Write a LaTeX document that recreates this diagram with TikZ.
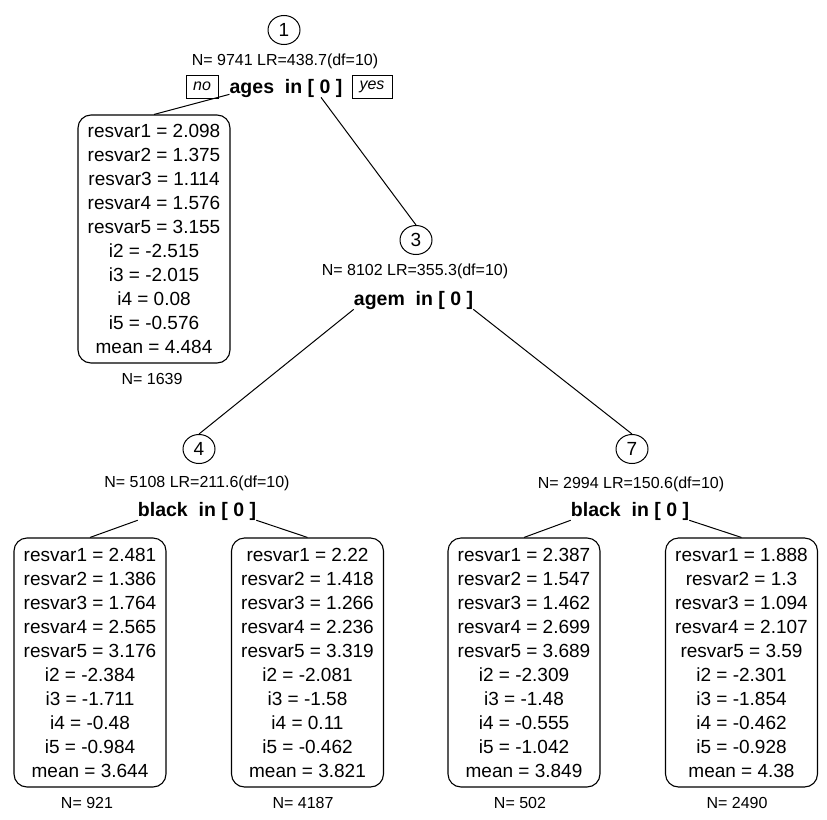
\documentclass[tikz,border=0pt]{standalone}
\usepackage{fontspec}
\setmainfont{Liberation Sans}
\usetikzlibrary{shapes.geometric}
\begin{document}
\begin{tikzpicture}[x=1pt,y=-1pt,
  circ/.style={draw, ellipse, line width=1pt, minimum width=32pt, minimum height=29pt, inner sep=0pt, font=\fontsize{19}{22}\selectfont},
  stat/.style={anchor=base, inner sep=0pt, font=\fontsize{16}{19}\selectfont},
  splitrule/.style={anchor=base, inner sep=0pt, font=\bfseries\fontsize{19.5}{22}\selectfont},
  lbl/.style={draw, line width=1pt, inner sep=0pt, minimum height=23pt, font=\itshape\fontsize{16}{19}\selectfont},
  leaf/.style={draw, rounded corners=13pt, line width=1.1pt, minimum width=152pt, align=center, inner sep=0pt, font=\fontsize{19}{24}\selectfont},
  edge/.style={line width=1pt}]
\fill[white] (0,0) rectangle (827,819);
\useasboundingbox (0,0) rectangle (827,819);

% node 1
\node[circ] (c1) at (284,30) {1};
\node[stat] (s1) at (285,65) {N= 9741 LR=438.7(df=10)};
\node[splitrule] (r1) at (286,93) {ages\ \ in [ 0 ]};
\node[lbl, minimum width=32pt] (no) at (202,86.5) {no};
\node[lbl, minimum width=40pt] (yes) at (372,86.5) {yes};

% left leaf
\node[leaf, minimum height=248pt] (L0) at (154,239) {resvar1 = 2.098\\resvar2 = 1.375\\resvar3 = 1.114\\resvar4 = 1.576\\resvar5 = 3.155\\i2 = -2.515\\i3 = -2.015\\i4 = 0.08\\i5 = -0.576\\mean = 4.484};
\node[stat] (N0) at (152,384) {N= 1639};

% node 3
\node[circ] (c3) at (416,240) {3};
\node[stat] (s3) at (415,275) {N= 8102 LR=355.3(df=10)};
\node[splitrule] (r3) at (413.5,305) {agem\ \ in [ 0 ]};

% node 4
\node[circ] (c4) at (199,449) {4};
\node[stat] (s4) at (197,487) {N= 5108 LR=211.6(df=10)};
\node[splitrule] (r4) at (197,516) {black\ \ in [ 0 ]};

% node 7
\node[circ] (c7) at (632,449) {7};
\node[stat] (s7) at (631,488) {N= 2994 LR=150.6(df=10)};
\node[splitrule] (r7) at (630,516) {black\ \ in [ 0 ]};

% bottom leaves
\node[leaf, minimum height=249pt] (L1) at (90,662.5) {resvar1 = 2.481\\resvar2 = 1.386\\resvar3 = 1.764\\resvar4 = 2.565\\resvar5 = 3.176\\i2 = -2.384\\i3 = -1.711\\i4 = -0.48\\i5 = -0.984\\mean = 3.644};
\node[stat] (N1) at (87,808) {N= 921};
\node[leaf, minimum height=249pt] (L2) at (307.5,662.5) {resvar1 = 2.22\\resvar2 = 1.418\\resvar3 = 1.266\\resvar4 = 2.236\\resvar5 = 3.319\\i2 = -2.081\\i3 = -1.58\\i4 = 0.11\\i5 = -0.462\\mean = 3.821};
\node[stat] (N2) at (303,808) {N= 4187};
\node[leaf, minimum height=249pt] (L3) at (524,662.5) {resvar1 = 2.387\\resvar2 = 1.547\\resvar3 = 1.462\\resvar4 = 2.699\\resvar5 = 3.689\\i2 = -2.309\\i3 = -1.48\\i4 = -0.555\\i5 = -1.042\\mean = 3.849};
\node[stat] (N3) at (520,808) {N= 502};
\node[leaf, minimum height=249pt] (L4) at (741.5,662.5) {resvar1 = 1.888\\resvar2 = 1.3\\resvar3 = 1.094\\resvar4 = 2.107\\resvar5 = 3.59\\i2 = -2.301\\i3 = -1.854\\i4 = -0.462\\i5 = -0.928\\mean = 4.38};
\node[stat] (N4) at (737,808) {N= 2490};

% edges
\draw[edge] ([yshift=3pt]r1.south west) -- (L0.north);
\draw[edge] ([xshift=35pt]r1.south) -- (c3.north);
\draw[edge] (r3.south west) -- (c4.north);
\draw[edge] (r3.south east) -- (c7.north);
\draw[edge] (r4.south west) -- (L1.north);
\draw[edge] (r4.south east) -- (L2.north);
\draw[edge] (r7.south west) -- (L3.north);
\draw[edge] (r7.south east) -- (L4.north);
\end{tikzpicture}
\end{document}
